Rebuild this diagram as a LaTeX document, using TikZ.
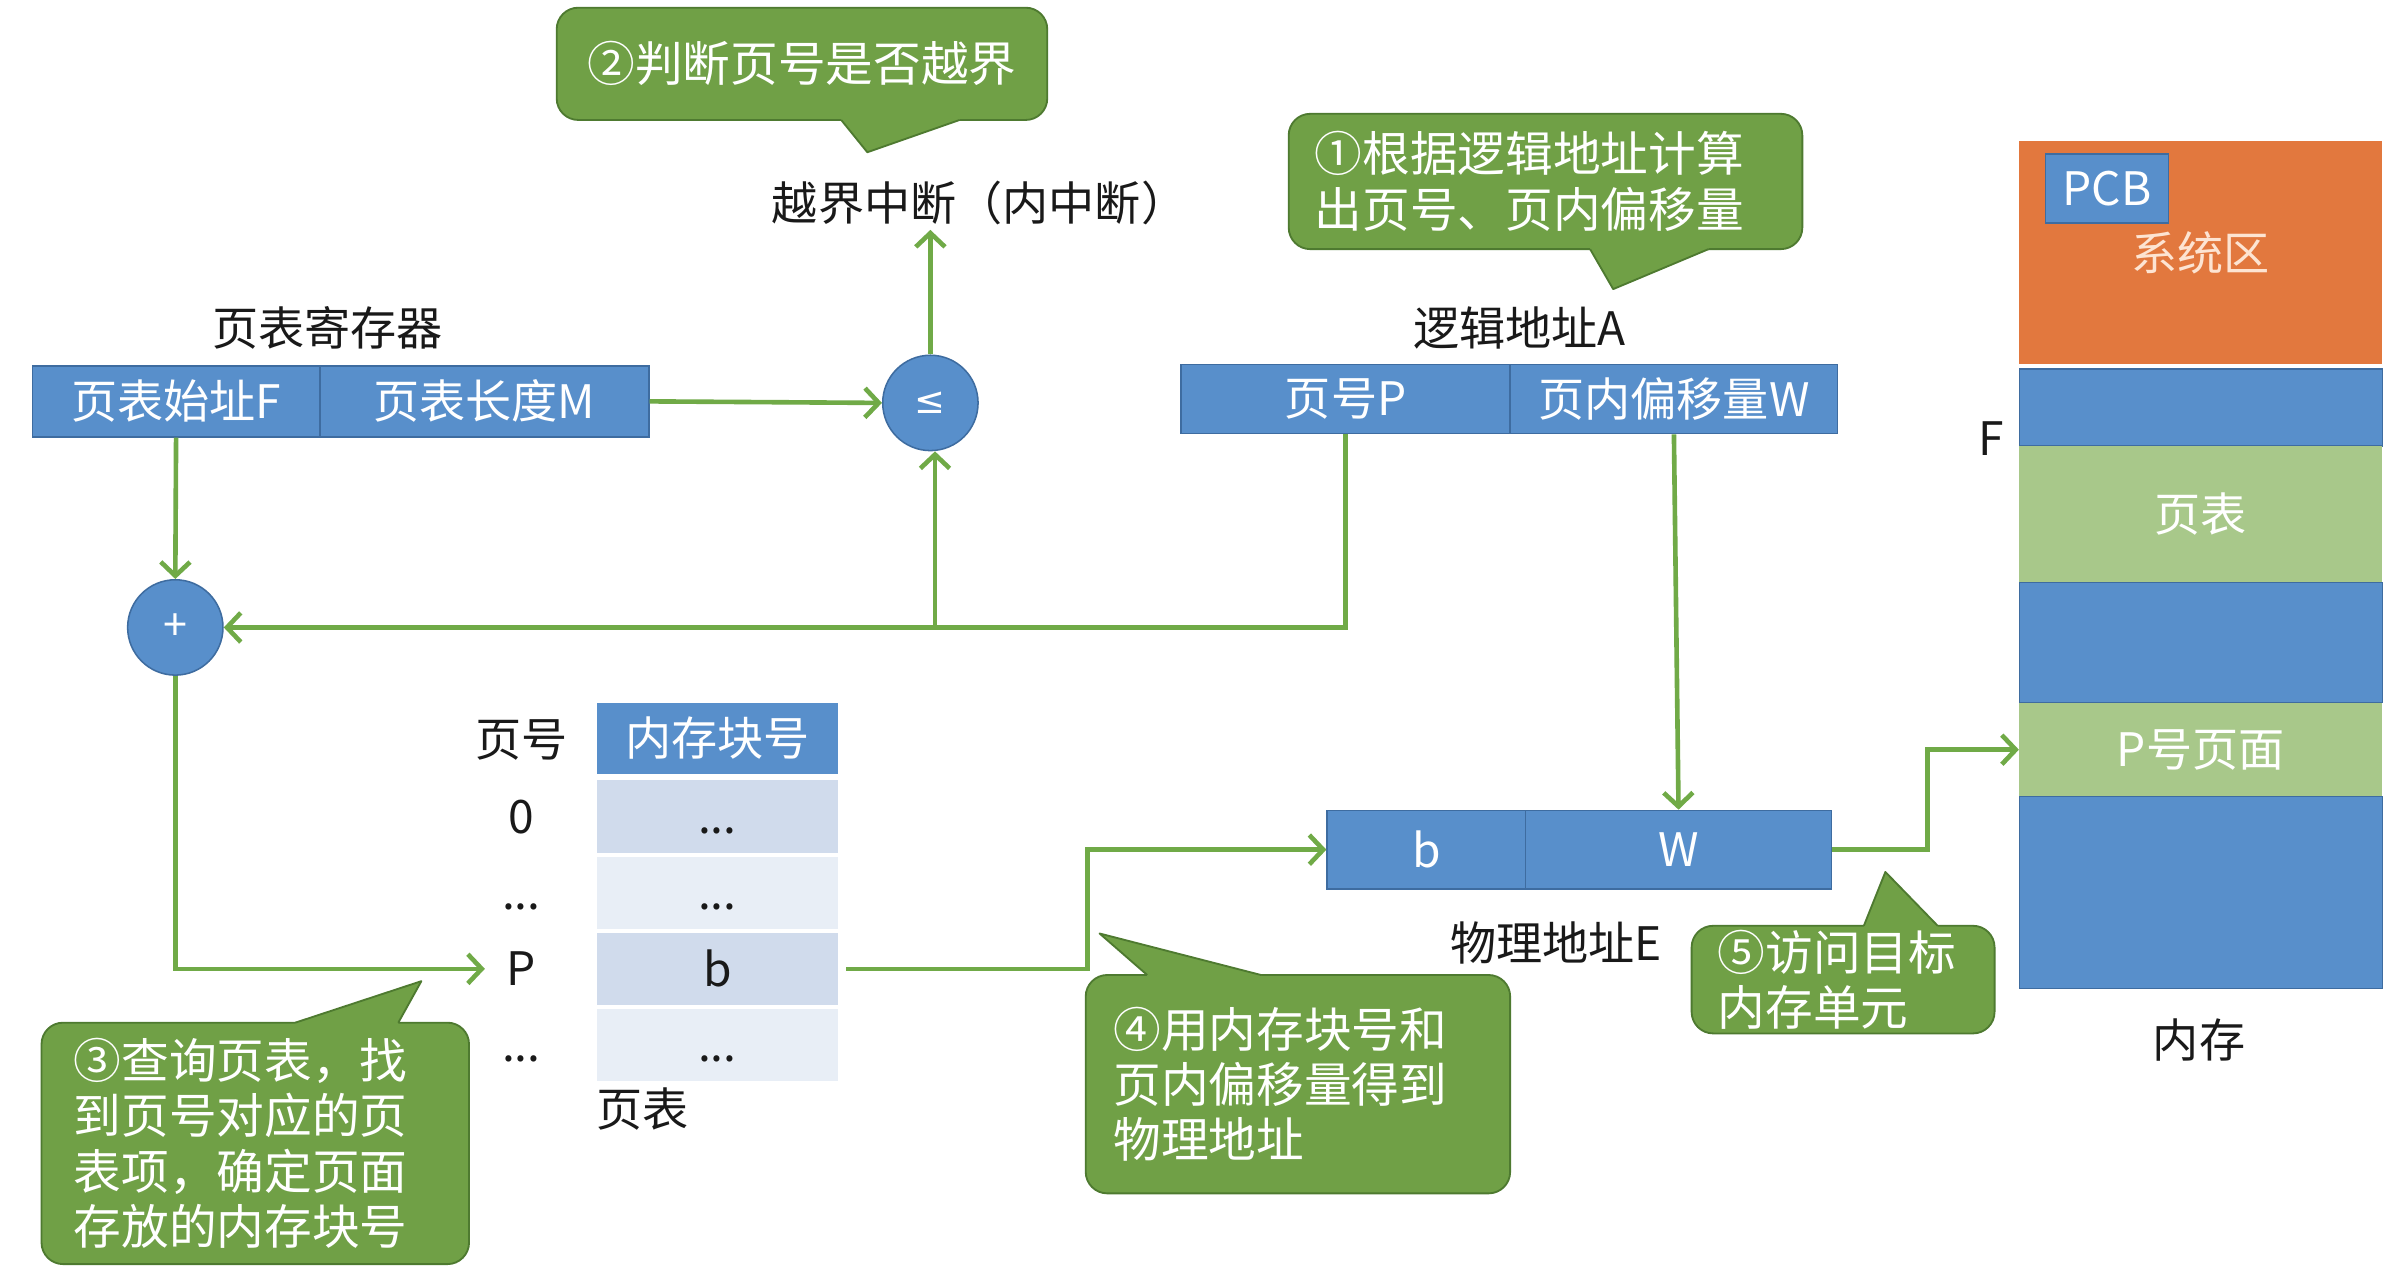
\documentclass[tikz,border=0pt]{standalone}
\usepackage{fontspec}
\setmainfont{Noto Sans CJK SC}
\newfontfamily\dejavu{DejaVu Sans}
\usetikzlibrary{arrows.meta,calc}
\definecolor{boxblue}{RGB}{88,143,203}
\definecolor{blueline}{RGB}{62,108,160}
\definecolor{orangec}{RGB}{226,120,62}
\definecolor{systext}{RGB}{253,228,210}
\definecolor{lgreen}{RGB}{168,200,138}
\definecolor{cgreen}{RGB}{112,160,70}
\definecolor{cborder}{RGB}{78,122,48}
\definecolor{agreen}{RGB}{112,170,71}
\definecolor{rowdark}{RGB}{208,219,236}
\definecolor{rowlight}{RGB}{232,238,246}
\definecolor{ink}{RGB}{25,25,25}
\newcommand{\callptr}[4]{%
  \fill[cgreen] ($(#1)+(0,#4)$) -- (#1) -- (#3) -- (#2) -- ($(#2)+(0,#4)$) -- cycle;
  \draw[cborder,line width=1.2pt,line join=round] (#1) -- (#3) -- (#2);}
\begin{document}
\begin{tikzpicture}[x=1pt,y=-1pt,
  sz/.style 2 args={minimum width=#1pt, minimum height=#2pt},
  fld/.style={rectangle, draw=blueline, line width=1pt, fill=boxblue, text=white, inner sep=0pt, font=\fontsize{30}{36}\selectfont},
  rowc/.style={rectangle, draw=none, inner sep=0pt, minimum width=157pt, minimum height=47pt, text=ink, font=\fontsize{30}{36}\selectfont},
  mblk/.style={rectangle, inner sep=0pt, minimum width=236pt, text=white, font=\fontsize{30}{36}\selectfont},
  lbl/.style={inner sep=0pt, text=ink, font=\fontsize{30}{36}\selectfont},
  circ/.style={circle, fill=boxblue, draw=blueline, line width=1pt, minimum size=62pt, inner sep=0pt, text=white, font=\fontsize{28}{34}\selectfont},
  flow/.style={draw=agreen, line width=3pt, -{Straight Barb[length=9pt,width=19pt]}},
  callout/.style={rectangle, fill=cgreen, draw=cborder, line width=1.2pt, rounded corners=14pt, text=white, align=left, inner ysep=0pt, font=\fontsize{31}{36}\selectfont}
]
\fill[white] (0,0) rectangle (1560,828.4);
\useasboundingbox (0,0) rectangle (1560,828.4);

% labels
\node[lbl] (ovf) at (637,132) {越界中断（内中断）};
\node[lbl] (regt) at (213,213) {页表寄存器};
\node[lbl] (lat) at (988,213) {逻辑地址A};
\node[lbl] (pat) at (1012,613) {物理地址E};
\node[lbl] (pth) at (339,481) {页号};
\node[lbl] (ptl) at (418,721) {页表};
\node[lbl] (fl) at (1295,285) {F};
\node[lbl] (meml) at (1430,676) {内存};

% page table register
\node[fld, sz={187}{46}] (regF) at (114.5,261) {页表始址F};
\node[fld, sz={214}{46}] (regM) at (315,261) {页表长度M};

% comparators
\node[circ] (le) at (605,262) {\dejavu\fontsize{24}{30}\selectfont ≤};
\node[circ] (plus) at (114,408) {+};

% logical address
\node[fld, sz={214}{45}] (laP) at (875,259.5) {页号P};
\node[fld, sz={213}{45}] (laW) at (1088.5,259.5) {页内偏移量W};

% physical address
\node[fld, sz={129}{51}] (pb) at (927.5,552.5) {b};
\node[fld, sz={199}{51}] (pw) at (1091.5,552.5) {W};

% page table
\node[fld, draw=none, sz={157}{46}] (hdr) at (466.5,480) {内存块号};
\node[rowc, fill=rowdark] (r0) at (466.5,531) {\vphantom{0}...};
\node[rowc, fill=rowlight] (r1) at (466.5,580.5) {\vphantom{0}...};
\node[rowc, fill=rowdark] (r2) at (466.5,630) {\vphantom{0}b};
\node[rowc, fill=rowlight] (r3) at (466.5,679.5) {\vphantom{0}...};
\node[lbl] (l0) at (339,531) {0};
\node[lbl] (l1) at (339,580.5) {\vphantom{0}...};
\node[lbl] (lP) at (339,630) {P};
\node[lbl] (l3) at (339,679.5) {\vphantom{0}...};

% memory
\node[mblk, fill=orangec, minimum height=145pt, text=systext] (sys) at (1431,164.5) {系统区};
\node[fld, sz={80}{45}] (pcb) at (1370,122.5) {PCB};
\node[mblk, fill=boxblue, draw=blueline, line width=0.8pt, minimum height=50pt] (m1) at (1431,265) {};
\node[mblk, fill=lgreen, minimum height=89pt] (m2) at (1431,334.5) {页表};
\node[mblk, fill=boxblue, draw=blueline, line width=0.8pt, minimum height=78pt] (m3) at (1431,418) {};
\node[mblk, fill=lgreen, minimum height=61pt] (m4) at (1431,487.5) {P号页面};
\node[mblk, fill=boxblue, draw=blueline, line width=0.8pt, minimum height=125pt] (m5) at (1431,580.5) {};

% connectors
\draw[flow] (regM.east) -- (le.west);
\draw[flow, shorten >=3pt] (le.north) -- (le.north |- ovf.south);
\draw[flow] (regF.south) -- (plus.north);
\draw[flow] (laP.south) |- (plus.east);
\coordinate (j) at ($(le.south |- plus.east)+(3,0)$);
\draw[flow] (j) -- (j |- le.south);
\draw[flow] (laW.south) -- (pw.north);
\draw[flow, shorten >=14pt] (plus.south) |- (lP.west);
\draw[flow] ([xshift=5pt]r2.east) -- ++(157,0) |- (pb.west);
\draw[flow] (pw.east) -- ++(62,0) |- (m4.west);

% callouts
\node[callout, align=center, sz={319}{73}, inner sep=0pt] (c2) at (521.5,41.5) {②判断页号是否越界};
\callptr{547,78}{624,78}{564,99}{-3}
\node[callout, text width=300pt, inner xsep=17pt, minimum height=88pt] (c1) at (1005,118) {①根据逻辑地址计算\\出页号、页内偏移量};
\callptr{1034,162}{1111,162}{1049,188}{-3}
\node[callout, text width=236pt, inner xsep=21pt, minimum height=157pt] (c3) at (166,743.5) {③查询页表，找\\到页号对应的页\\表项，确定页面\\存放的内存块号};
\callptr{192,665}{259,665}{274,638}{3}
\node[callout, text width=240pt, inner xsep=18pt, minimum height=142pt] (c4) at (844,705) {④用内存块号和\\页内偏移量得到\\物理地址};
\callptr{746,634}{820,634}{715,607}{3}
\node[callout, text width=163pt, inner xsep=17pt, minimum height=70pt] (c5) at (1198.5,637) {⑤访问目标\\内存单元};
\callptr{1212,602}{1260,602}{1226,567}{3}
\end{tikzpicture}
\end{document}
